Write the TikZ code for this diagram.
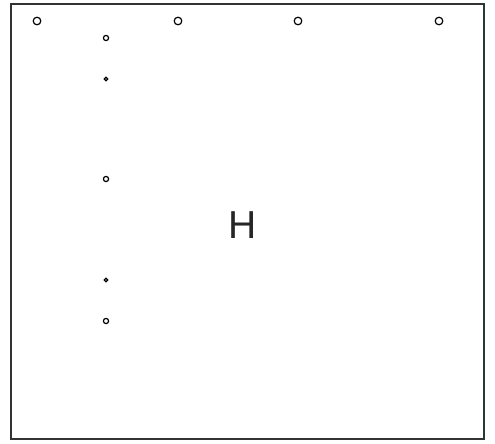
\documentclass[tikz,border=0pt]{standalone}
\usepackage{fontspec}
\setmainfont{Liberation Sans}
\begin{document}
\begin{tikzpicture}[x=1pt, y=-1pt]
            \useasboundingbox (0,0) rectangle (495,444);
            % Marco
            \draw[line width=1.5pt, draw=black!80] (11,4) rectangle (484,439);

            % Agujeros de arriba
            \foreach \x in {37,178,298,439}
                \draw[line width=1.2pt] (\x,21) circle (3.8);

            % Agujeros del lado
            \foreach \y in {38,179,321}
                \draw[line width=1.2pt] (106,\y) circle (2.6);
            \foreach \y in {79,280}
                \draw[line width=1.2pt] (106,\y) circle (1.7);

            % Letra
            \node[font=\fontsize{39}{39}\selectfont, text=black!85, inner sep=0pt] (letra) at (243,225) {H};
        \end{tikzpicture}
\end{document}
